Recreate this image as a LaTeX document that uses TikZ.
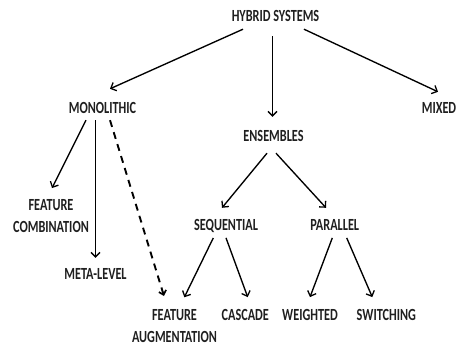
\documentclass[tikz,border=0pt]{standalone}
\usepackage{fontspec}
\setmainfont{Carlito}[FakeStretch=0.72]
\usetikzlibrary{arrows.meta}
\begin{document}
\begin{tikzpicture}[x=1pt,y=-1pt,
  lbl/.style={inner sep=0pt,anchor=base,text height=11pt,text depth=0pt,text=black!88,font=\fontsize{17}{22}\selectfont\bfseries},
  lbl2/.style={inner sep=0pt,anchor=north,align=center,text=black!88,font=\fontsize{17}{22}\selectfont\bfseries},
  arr/.style={line width=1.35pt,-{Straight Barb[length=4.5pt,width=9pt,line width=1.3pt]}},
  dasharr/.style={line width=1.9pt,dash pattern=on 7pt off 5.5pt,-{Straight Barb[length=4pt,width=7.5pt,line width=1.7pt]}}]
\useasboundingbox (0,0) rectangle (458,346);
\node[lbl] (hs) at (275.5,21) {HYBRID SYSTEMS};
\node[lbl] (mono) at (102.5,113) {MONOLITHIC};
\node[lbl] (mixed) at (439,113) {MIXED};
\node[lbl] (ens) at (273.5,141) {ENSEMBLES};
\node[lbl2] (fc) at (51,199) {FEATURE\\COMBINATION};
\node[lbl] (ml) at (95.5,279) {META-LEVEL};
\node[lbl] (seq) at (226,230) {SEQUENTIAL};
\node[lbl] (par) at (334.7,230) {PARALLEL};
\node[lbl2] (fa) at (174.5,309) {FEATURE\\AUGMENTATION};
\node[lbl] (cas) at (245.3,320) {CASCADE};
\node[lbl] (wei) at (310,320) {WEIGHTED};
\node[lbl] (sw) at (386.3,320) {SWITCHING};
\draw[arr] ([shift={(-32.5,8)}]hs.south) -- ([shift={(7.5,-13)}]mono.north);
\draw[arr] ([shift={(-3,15)}]hs.south) -- ([shift={(-1,-13)}]ens.north);
\draw[arr] ([shift={(28.5,8)}]hs.south) -- ([shift={(-1,-10)}]mixed.north);
\draw[arr] ([shift={(-16.5,7)}]mono.south) -- ([shift={(1,-11)}]fc.north);
\draw[arr] ([shift={(-7,7)}]mono.south) -- ([shift={(0,-10)}]ml.north);
\draw[dasharr] ([shift={(7.5,7)}]mono.south) -- ([shift={(-10.5,-13)}]fa.north);
\draw[arr] ([shift={(-6.5,12)}]ens.south) -- ([shift={(-4,-11)}]seq.north);
\draw[arr] ([shift={(2.5,12)}]ens.south) -- ([shift={(-8.7,-11)}]par.north);
\draw[arr] ([shift={(-12.7,7.7)}]seq.south) -- ([shift={(9.8,-11.7)}]fa.north);
\draw[arr] ([shift={(0,7.7)}]seq.south) -- ([shift={(2.4,-11.7)}]cas.north);
\draw[arr] ([shift={(-2.4,7.7)}]par.south) -- ([shift={(0,-11.7)}]wei.north);
\draw[arr] ([shift={(12,7.7)}]par.south) -- ([shift={(-14,-11.7)}]sw.north);
\end{tikzpicture}
\end{document}
